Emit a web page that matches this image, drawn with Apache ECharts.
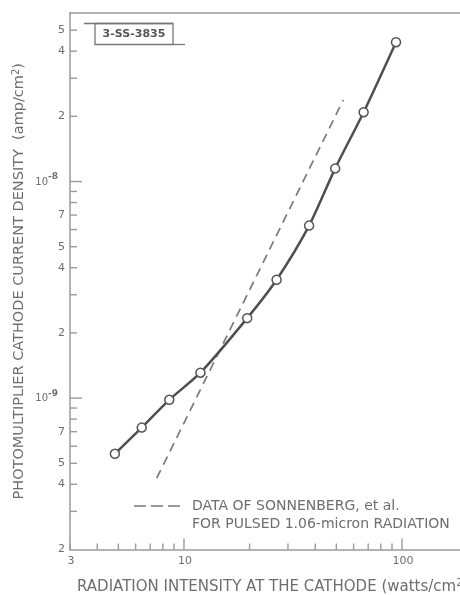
<!DOCTYPE html>
<html><head><meta charset="utf-8">
<script src="https://cdn.jsdelivr.net/npm/echarts@6/dist/echarts.min.js"></script>
<style>html,body{margin:0;padding:0;background:#fff}#c{width:460px;height:595px}</style>
</head><body><div id="c"></div>
<script>
// ---- data ----
const measuredX = [4.82, 6.40, 8.56, 11.9, 19.5, 26.6, 37.5, 49.4, 66.7, 93.9];
const measuredY = [5.53e-10, 7.31e-10, 9.82e-10, 1.31e-9, 2.34e-9, 3.52e-9, 6.26e-9, 1.15e-8, 2.09e-8, 4.40e-8];
const sonnenbergX = [7.5, 53.8];
const sonnenbergY = [4.27e-10, 2.38e-8];
const xTickValues = [3, 4, 5, 6, 7, 8, 9, 10, 20, 30, 40, 50, 60, 70, 80, 90, 100];
const xMajorValues = [10, 100];
const xLabelValues = [3, 10, 100];
const xLabelTexts = ['3', '10', '100'];
const yTickValues = [3e-10, 4e-10, 5e-10, 6e-10, 7e-10, 8e-10, 9e-10, 1e-9,
  2e-9, 3e-9, 4e-9, 5e-9, 6e-9, 7e-9, 8e-9, 9e-9, 1e-8, 2e-8, 3e-8, 4e-8, 5e-8];
const yMajorValues = [1e-9, 1e-8];
const yLabelValues = [2e-10, 4e-10, 5e-10, 7e-10, 1e-9, 2e-9, 4e-9, 5e-9, 7e-9, 1e-8, 2e-8, 4e-8, 5e-8];
const yLabelTexts = ['2', '4', '5', '7', '{b|10}{s|-9}', '2', '4', '5', '7', '{b|10}{s|-8}', '2', '4', '5'];
const xTitle = 'RADIATION INTENSITY AT THE CATHODE (watts/cm{s|2})';
const yTitle = 'PHOTOMULTIPLIER CATHODE CURRENT DENSITY  (amp/cm{s|2})';
const legendLine1 = 'DATA OF SONNENBERG, et al.';
const legendLine2 = 'FOR PULSED 1.06-micron RADIATION';
const figureTag = '3-SS-3835';
const X_MIN = 3, X_MAX = 184.6, Y_MIN = 2e-10, Y_MAX = 6e-8;

const INK = '#6e6e6e';
const AXIS = '#9a9a9a';
const FONT = '"DejaVu Sans", sans-serif';

const chart = echarts.init(document.getElementById('c'), null, {renderer: 'canvas'});

const xTickData = xTickValues.map(v => [v, Y_MIN, xMajorValues.includes(v) ? 1 : 0]);
const yTickData = yTickValues.map(v => [X_MIN, v, yMajorValues.includes(v) ? 1 : 0]);
const xLabelData = xLabelValues.map((v, i) => [v, Y_MIN, i]);
const yLabelData = yLabelValues.map((v, i) => [X_MIN, v, i]);
const supRich = {s: {fontSize: 10, verticalAlign: 'top', color: INK, fill: INK, fontFamily: FONT, padding: [0, 0, 7, 0]}};

chart.setOption({
  animation: false,
  backgroundColor: '#fff',
  grid: {left: 70, right: 0, top: 13, bottom: 45.5, containLabel: false, outerBoundsMode: 'none'},
  xAxis: [{
    type: 'log', logBase: 10, min: X_MIN, max: X_MAX,
    axisLine: {show: true, lineStyle: {color: AXIS, width: 1.5}},
    axisTick: {show: false}, axisLabel: {show: false}, splitLine: {show: false}
  }, {
    type: 'log', logBase: 10, min: X_MIN, max: X_MAX, position: 'top',
    axisLine: {show: true, lineStyle: {color: AXIS, width: 1.5}},
    axisTick: {show: false}, axisLabel: {show: false}, splitLine: {show: false}
  }],
  yAxis: {
    type: 'log', logBase: 10, min: Y_MIN, max: Y_MAX,
    axisLine: {show: true, lineStyle: {color: AXIS, width: 1.5}},
    axisTick: {show: false}, axisLabel: {show: false}, splitLine: {show: false},
    name: yTitle,
    nameLocation: 'middle', nameGap: 42, nameRotate: 90,
    nameTextStyle: {color: INK, fontFamily: FONT, fontSize: 14.5, rich: supRich}
  },
  series: [
    {
      type: 'custom', silent: true, z: 5, data: xTickData,
      renderItem: (params, api) => {
        const p = api.coord([api.value(0), api.value(1)]);
        const len = api.value(2) ? 11 : 6;
        return {type: 'line', shape: {x1: p[0], y1: p[1], x2: p[0], y2: p[1] - len},
          style: {stroke: AXIS, lineWidth: 1.4}};
      }
    },
    {
      type: 'custom', silent: true, z: 5, data: yTickData,
      renderItem: (params, api) => {
        const p = api.coord([api.value(0), api.value(1)]);
        const len = api.value(2) ? 12 : 7;
        return {type: 'line', shape: {x1: p[0], y1: p[1], x2: p[0] + len, y2: p[1]},
          style: {stroke: AXIS, lineWidth: 1.4}};
      }
    },
    {
      type: 'custom', silent: true, z: 5, data: xLabelData,
      renderItem: (params, api) => {
        const p = api.coord([api.value(0), api.value(1)]);
        return {type: 'text', x: p[0] + 1, y: p[1] + 12,
          style: {text: xLabelTexts[api.value(2)], fill: INK, font: '11px ' + FONT,
            align: 'center', verticalAlign: 'middle'}};
      }
    },
    {
      type: 'custom', silent: true, z: 5, data: yLabelData,
      renderItem: (params, api) => {
        const p = api.coord([api.value(0), api.value(1)]);
        const t = yLabelTexts[api.value(2)];
        const isPow = t.indexOf('{') === 0;
        return {type: 'text', x: p[0] - (isPow ? 12 : 5), y: p[1] + (isPow ? -2 : 0),
          style: {text: t, fill: INK, fontFamily: FONT, fontSize: 11,
            align: 'right', verticalAlign: 'middle',
            rich: {
              b: {fontSize: 10, fill: INK, fontFamily: FONT, padding: [5, 0, 0, 0]},
              s: {fontSize: 9, fill: INK, fontFamily: FONT, fontWeight: 'bold', padding: [0, 0, 5, 0]}
            }}};
      }
    },
    {
      name: 'Sonnenberg', type: 'line', z: 3,
      data: sonnenbergX.map((x, i) => [x, sonnenbergY[i]]),
      symbol: 'none',
      lineStyle: {color: '#7a7a7a', width: 1.7, type: [9, 6]}
    },
    {
      name: 'Measured', type: 'line', z: 4,
      data: measuredX.map((x, i) => [x, measuredY[i]]),
      smooth: 0.25,
      symbol: 'circle', symbolSize: 9,
      itemStyle: {color: '#fff', borderColor: '#555', borderWidth: 1.5},
      lineStyle: {color: '#4f4f4f', width: 2.5}
    }
  ],
  graphic: [
    {type: 'line', shape: {x1: 84, y1: 23.5, x2: 173, y2: 23.5}, style: {stroke: '#777', lineWidth: 1.3}},
    {type: 'rect', shape: {x: 95, y: 23.5, width: 78, height: 21}, style: {fill: 'none', stroke: '#777', lineWidth: 1.3}},
    {type: 'line', shape: {x1: 173, y1: 44.5, x2: 185, y2: 44.5}, style: {stroke: '#777', lineWidth: 1.3}},
    {type: 'text', x: 134, y: 34.5, style: {text: figureTag, fill: '#555', font: 'bold 11px ' + FONT, align: 'center', verticalAlign: 'middle'}},
    {type: 'line', shape: {x1: 134, y1: 506, x2: 185, y2: 506}, style: {stroke: '#7a7a7a', lineWidth: 1.7, lineDash: [12, 5]}},
    {type: 'text', x: 192, y: 506, style: {text: legendLine1, fill: INK, font: '14px ' + FONT, align: 'left', verticalAlign: 'middle'}},
    {type: 'text', x: 192, y: 524, style: {text: legendLine2, fill: INK, font: '14px ' + FONT, align: 'left', verticalAlign: 'middle'}},
    {type: 'text', x: 77, y: 587, style: {text: xTitle, fill: INK, fontFamily: FONT, fontSize: 15, align: 'left', verticalAlign: 'middle', rich: supRich}}
  ]
});
</script>
</body></html>
